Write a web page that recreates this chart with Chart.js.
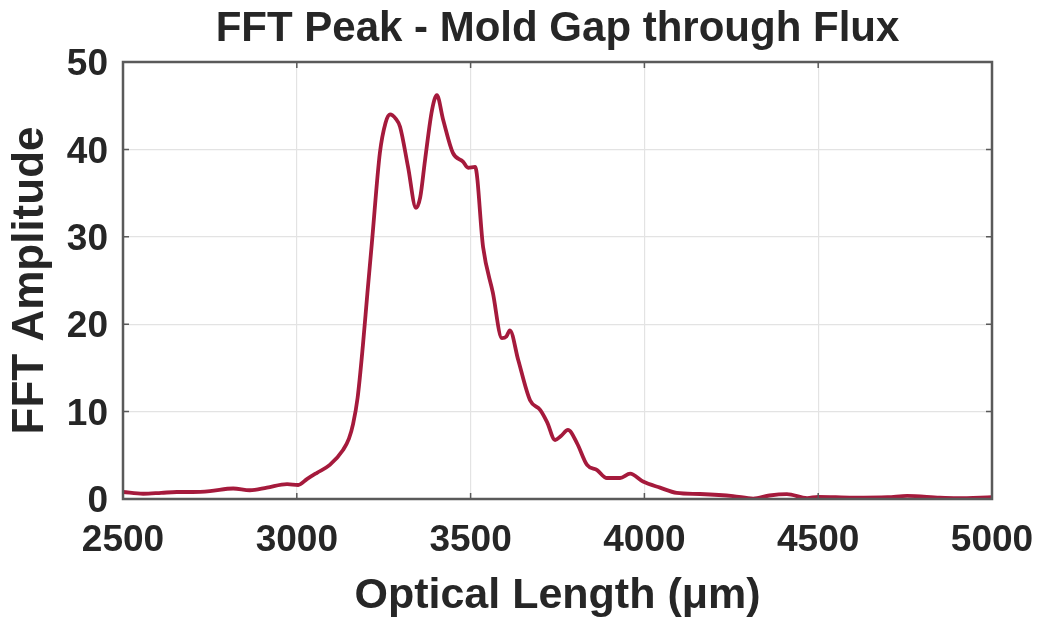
<!DOCTYPE html>
<html>
<head>
<meta charset="utf-8">
<script src="https://cdn.jsdelivr.net/npm/chart.js@4"></script>
<style>
  body { margin: 0; background: #fff; }
</style>
</head>
<body>
<canvas id="fft" width="1042" height="623"></canvas>
<script>
// optical length (um) and FFT amplitude
const opticalLength = [
	2500, 2558, 2610, 2655, 2700, 2750, 2817, 2865, 2914, 2972, 3004, 3030,
	3058, 3095, 3133, 3150, 3162, 3175, 3190, 3203, 3216, 3239, 3255, 3268,
	3285, 3297, 3320, 3343, 3355, 3369, 3389, 3403, 3421, 3449, 3478, 3493,
	3513, 3536, 3564, 3590, 3603, 3613, 3637, 3671, 3700, 3720, 3743, 3760,
	3780, 3806, 3835, 3864, 3892, 3930, 3959, 3996, 4045, 4093, 4160, 4255,
	4313, 4360, 4410, 4468, 4500, 4600, 4700, 4756, 4850, 4900, 5000,
];
const amplitude = [
	0.8, 0.6, 0.7, 0.8, 0.8, 0.9, 1.2, 1.0, 1.3, 1.7, 1.6, 2.3,
	3.0, 3.9, 5.6, 6.9, 8.6, 11.6, 17.5, 23.5, 29.3, 39.6, 43.0, 44.0,
	43.5, 42.6, 38.0, 33.3, 34.5, 38.8, 44.5, 46.2, 43.4, 39.6, 38.6, 37.9,
	38.0, 28.8, 23.6, 18.4, 18.6, 19.3, 15.9, 11.3, 10.2, 8.8, 6.75, 7.2,
	7.9, 6.4, 3.9, 3.3, 2.4, 2.4, 2.9, 2.0, 1.3, 0.7, 0.57, 0.34,
	0.05, 0.4, 0.55, 0.1, 0.25, 0.15, 0.2, 0.35, 0.15, 0.1, 0.2,
];
const xTicks = [2500, 3000, 3500, 4000, 4500, 5000];
const yTicks = [0, 10, 20, 30, 40, 50];

const lineColor = "#a51a3c";
const textColor = "#262626";
const fontFamily = "'Liberation Sans', Arial, Helvetica, sans-serif";

// matlab style box with inward ticks
const axesBox = {
	id: "axesBox",
	afterDraw(chart) {
		const { ctx, chartArea: a, scales } = chart;
		const len = 6;
		ctx.save();
		ctx.strokeStyle = "#5a5a5a";
		ctx.lineWidth = 1.5;
		ctx.beginPath();
		xTicks.forEach(v => {
			const x = scales.x.getPixelForValue(v);
			ctx.moveTo(x, a.bottom);
			ctx.lineTo(x, a.bottom - len);
			ctx.moveTo(x, a.top);
			ctx.lineTo(x, a.top + len);
		});
		yTicks.forEach(v => {
			const y = scales.y.getPixelForValue(v);
			ctx.moveTo(a.left, y);
			ctx.lineTo(a.left + len, y);
			ctx.moveTo(a.right, y);
			ctx.lineTo(a.right - len, y);
		});
		ctx.stroke();
		ctx.lineWidth = 2.5;
		ctx.strokeRect(a.left, a.top, a.right - a.left, a.bottom - a.top);
		ctx.restore();
	},
};

new Chart(document.getElementById("fft"), {
	type: "line",
	plugins: [axesBox],
	data: {
		datasets: [
			{
				data: opticalLength.map((x, i) => ({ x, y: amplitude[i] })),
				borderColor: lineColor,
				borderWidth: 3.8,
				pointRadius: 0,
				cubicInterpolationMode: "monotone",
				fill: false,
			},
		],
	},
	options: {
		responsive: false,
		animation: false,
		layout: { padding: { right: 50 } },
		plugins: {
			legend: { display: false },
			tooltip: { enabled: false },
			title: {
				display: true,
				text: "FFT Peak - Mold Gap through Flux",
				color: textColor,
				font: { family: fontFamily, size: 42, weight: "bold", lineHeight: 1.2 },
				padding: { top: 4, bottom: 7.6 },
				fullSize: false,
			},
		},
		scales: {
			x: {
				type: "linear",
				min: 2500,
				max: 5000,
				afterBuildTicks: scale => {
					scale.ticks = xTicks.map(value => ({ value }));
				},
				afterFit: scale => {
					scale.height = 124;
					scale.paddingLeft = 0;
					scale.paddingRight = 0;
				},
				grid: { color: "#e3e3e3", lineWidth: 1.2, drawTicks: false },
				border: { display: false },
				ticks: {
					color: textColor,
					padding: 20,
					maxRotation: 0,
					callback: v => String(v),
					font: { family: fontFamily, size: 37, weight: "bold" },
				},
				title: {
					display: true,
					text: "Optical Length (μm)",
					color: textColor,
					padding: { top: 0, bottom: 1 },
					font: { family: fontFamily, size: 43, weight: "bold", lineHeight: 1.2 },
				},
			},
			y: {
				min: 0,
				max: 50,
				afterBuildTicks: scale => {
					scale.ticks = yTicks.map(value => ({ value }));
				},
				afterFit: scale => {
					scale.width = 123;
				},
				grid: { color: "#e3e3e3", lineWidth: 1.2, drawTicks: false },
				border: { display: false },
				ticks: {
					color: textColor,
					padding: 15,
					labelOffset: 3,
					font: { family: fontFamily, size: 37, weight: "bold" },
				},
				title: {
					display: true,
					text: "FFT Amplitude",
					color: textColor,
					padding: { top: 4, bottom: 0 },
					font: { family: fontFamily, size: 44, weight: "bold", lineHeight: 1.2 },
				},
			},
		},
	},
});
</script>
</body>
</html>
